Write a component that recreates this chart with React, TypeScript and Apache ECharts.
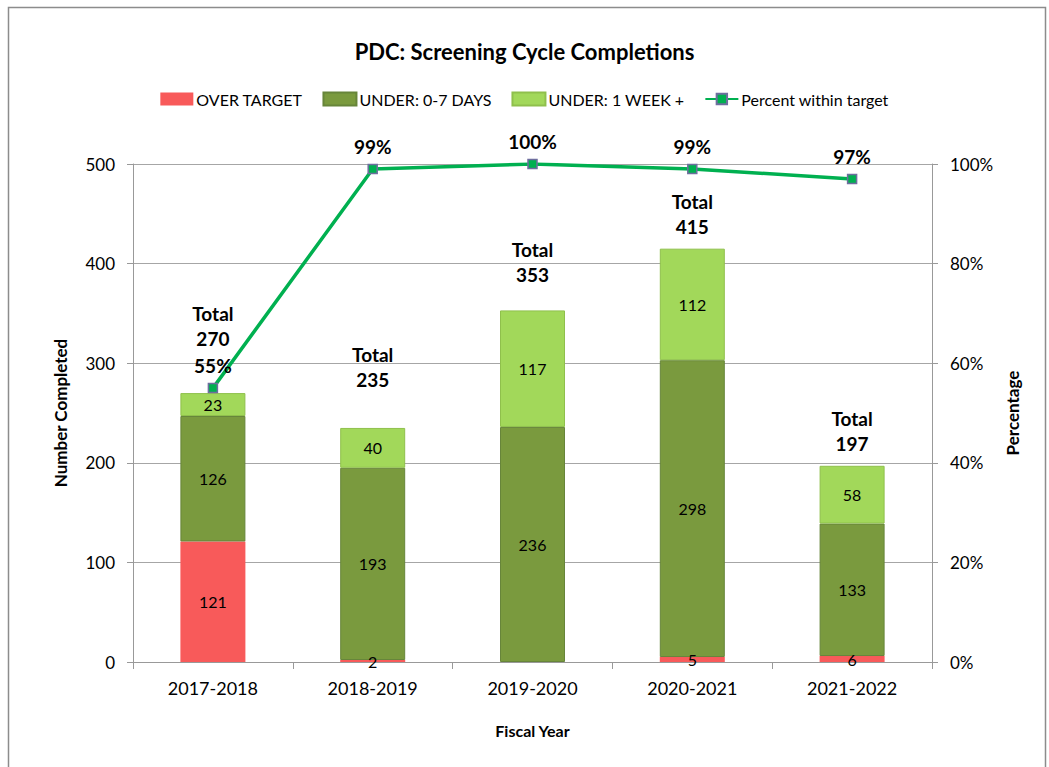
import React, { useEffect, useRef } from "react";
import * as echarts from "echarts";

const categories = ["2017-2018", "2018-2019", "2019-2020", "2020-2021", "2021-2022"];
const overTarget = [121, 2, 0, 5, 6];
const under07 = [126, 193, 236, 298, 133];
const under1wk = [23, 40, 117, 112, 58];
const percentWithin = [55, 99, 100, 99, 97];
const totals = [270, 235, 353, 415, 197];

const totalLabelLift = [42, 36, 23, 10, 10];

const FONT = 'Lato, "Open Sans", sans-serif';

export default function App() {
  const ref = useRef<HTMLDivElement>(null);
  useEffect(() => {
    if (!ref.current) return;
    const chart = echarts.init(ref.current, undefined, { renderer: "svg" });
    const insideLabel = {
      show: true,
      position: "inside" as const,
      color: "#000",
      fontSize: 16,
      fontFamily: FONT,
      formatter: (p: any) => (p.value ? String(p.value) : ""),
    };
    const barCommon = {
      type: "bar" as const,
      stack: "total",
      barWidth: 65,
      label: insideLabel,
    };
    chart.setOption({
      animation: false,
      textStyle: { fontFamily: FONT },
      title: {
        text: "PDC: Screening Cycle Completions",
        left: "center",
        top: 35,
        textStyle: { fontFamily: FONT, fontSize: 22, fontWeight: "bold", color: "#000" },
      },
      legend: {
        top: 86,
        left: "center",
        itemWidth: 33,
        itemHeight: 13,
        itemGap: 20,
        textStyle: { fontFamily: FONT, fontSize: 16, color: "#000", padding: [0, 0, 0, -2] },
        data: [
          { name: "OVER TARGET", icon: "rect" },
          { name: "UNDER: 0-7 DAYS", icon: "rect" },
          { name: "UNDER: 1 WEEK +", icon: "rect" },
          { name: "Percent within target" },
        ],
      },
      graphic: [
        {
          type: "rect",
          shape: { x: 8.5, y: 7.5, width: 1037, height: 770 },
          style: { fill: "none", stroke: "#8c8c8c", lineWidth: 1.5 },
          silent: true,
        },
      ],
      grid: { left: 133, right: 117, top: 164, bottom: 105 },
      xAxis: {
        type: "category",
        data: categories,
        boundaryGap: true,
        name: "Fiscal Year",
        nameLocation: "middle",
        nameGap: 60,
        nameTextStyle: { fontFamily: FONT, fontSize: 16, fontWeight: "bold", color: "#000" },
        axisLine: { lineStyle: { color: "#999" } },
        axisTick: { show: true, length: 7, lineStyle: { color: "#999" } },
        axisLabel: { fontFamily: FONT, fontSize: 18, color: "#000", margin: 17 },
      },
      yAxis: [
        {
          type: "value",
          min: 0,
          max: 500,
          interval: 100,
          name: "Number Completed",
          nameLocation: "middle",
          nameGap: 64,
          nameRotate: 90,
          nameTextStyle: { fontFamily: FONT, fontSize: 17, fontWeight: "bold", color: "#000" },
          axisLine: { show: true, lineStyle: { color: "#999" } },
          axisTick: { show: true, length: 6, lineStyle: { color: "#999" } },
          axisLabel: { fontFamily: FONT, fontSize: 17, color: "#000", margin: 18 },
          splitLine: { show: true, lineStyle: { color: "#a6a6a6", width: 1 } },
        },
        {
          type: "value",
          min: 0,
          max: 100,
          interval: 20,
          position: "right",
          name: "Percentage",
          nameLocation: "middle",
          nameGap: 70,
          nameRotate: 90,
          nameTextStyle: { fontFamily: FONT, fontSize: 17, fontWeight: "bold", color: "#000" },
          axisLine: { show: true, lineStyle: { color: "#999" } },
          axisTick: { show: true, length: 6, lineStyle: { color: "#999" } },
          axisLabel: { fontFamily: FONT, fontSize: 17, color: "#000", margin: 18, formatter: "{value}%" },
          splitLine: { show: false },
        },
      ],
      series: [
        {
          ...barCommon,
          name: "OVER TARGET",
          data: overTarget,
          itemStyle: { color: "#f85a5a", borderWidth: 0 },
        },
        {
          ...barCommon,
          name: "UNDER: 0-7 DAYS",
          data: under07,
          itemStyle: { color: "#7a9a3e", borderColor: "#67853a", borderWidth: 1 },
        },
        {
          ...barCommon,
          name: "UNDER: 1 WEEK +",
          data: under1wk,
          itemStyle: { color: "#a2d85a", borderColor: "#8fc04c", borderWidth: 1 },
        },
        {
          type: "scatter",
          name: "totals",
          yAxisIndex: 0,
          symbolSize: 0,
          silent: true,
          itemStyle: { opacity: 1 },
          data: totals.map((v, i) => ({ value: v, label: { distance: totalLabelLift[i] } })),
          label: {
            show: true,
            position: "top",
            formatter: (p: any) => "Total\n" + p.value,
            fontFamily: FONT,
            fontSize: 19,
            fontWeight: "bold",
            color: "#000",
            opacity: 1,
            lineHeight: 25,
            align: "center",
          },
          z: 5,
        },
        {
          type: "line",
          name: "Percent within target",
          yAxisIndex: 1,
          data: percentWithin,
          symbol: "rect",
          symbolSize: 9,
          lineStyle: { color: "#00b050", width: 3.5 },
          itemStyle: { color: "#00b050", borderColor: "#6e6e9e", borderWidth: 1.5 },
          label: {
            show: true,
            position: "top",
            distance: 8,
            formatter: "{c}%",
            fontFamily: FONT,
            fontSize: 19,
            fontWeight: "bold",
            color: "#000",
          },
          z: 10,
        },
      ],
    });
    return () => chart.dispose();
  }, []);
  return (
    <div
      ref={ref}
      style={{ position: "fixed", left: 0, top: 0, width: 1049, height: 767, background: "#fff" }}
    />
  );
}
